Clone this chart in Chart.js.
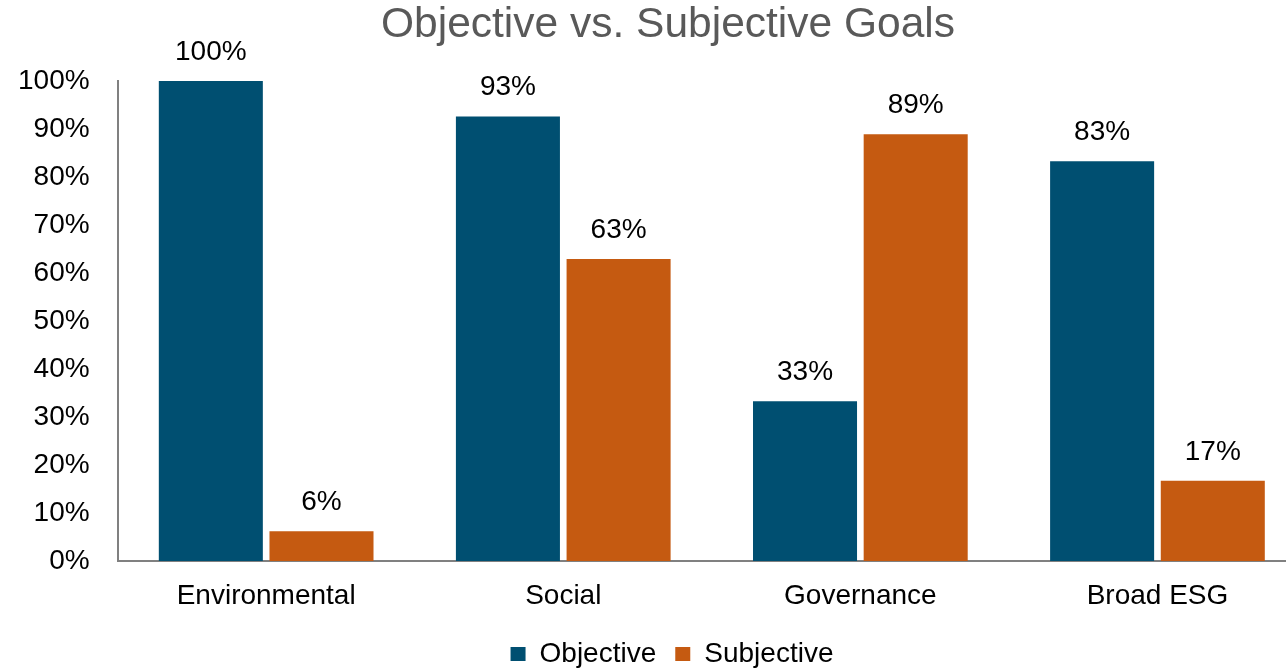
<!DOCTYPE html>
<html>
<head>
<meta charset="utf-8">
<script src="https://cdn.jsdelivr.net/npm/chart.js@4"></script>
<style>
  html, body { margin: 0; padding: 0; background: #fff; overflow: hidden; }
  /* the x axis runs a little past the right edge in the original */
  #wrap { width: 1306px; height: 668px; }
</style>
</head>
<body>
<div id="wrap"><canvas id="chart"></canvas></div>
<script>
const categories = ['Environmental', 'Social', 'Governance', 'Broad ESG'];
const objective  = [100, 92.6, 33.3, 83.3];
const subjective = [6.2, 62.9, 88.9, 16.7];
const yTicks = [0, 10, 20, 30, 40, 50, 60, 70, 80, 90, 100];

const FONT = '"Liberation Sans", Arial, sans-serif';

// draw the % labels above each bar
const barLabels = {
    id: 'barLabels',
    afterDatasetsDraw(chart) {
        const ctx = chart.ctx;
        ctx.save();
        ctx.font = '28px ' + FONT;
        ctx.fillStyle = '#000';
        ctx.textAlign = 'center';
        ctx.textBaseline = 'middle';
        chart.data.datasets.forEach((ds, i) => {
            chart.getDatasetMeta(i).data.forEach((bar, j) => {
                ctx.fillText(Math.round(ds.data[j]) + '%', bar.x, bar.y - 29);
            });
        });
        ctx.restore();
    }
};

// original is centred a bit right of the canvas middle
const nudge = {
    id: 'nudge',
    afterLayout(chart) {
        chart.titleBlock.left += 20;
        chart.titleBlock.right += 20;
        chart.legend.left += 24;
        chart.legend.right += 24;
    }
};

new Chart(document.getElementById('chart'), {
    type: 'bar',
    data: {
        labels: categories,
        datasets: [
            { label: 'Objective', data: objective, backgroundColor: '#004f71' },
            { label: 'Subjective', data: subjective, backgroundColor: '#c55a11' }
        ]
    },
    options: {
        responsive: true,
        maintainAspectRatio: false,
        animation: false,
        layout: { padding: { left: -10, right: 0, top: 0, bottom: -10 } },
        datasets: { bar: { categoryPercentage: 0.745, barPercentage: 0.94 } },
        plugins: {
            title: {
                display: true,
                text: 'Objective vs. Subjective Goals',
                color: '#595959',
                font: { family: FONT, size: 42.5, weight: 'normal' },
                padding: { top: 0, bottom: 30 }
            },
            legend: {
                position: 'bottom',
                labels: {
                    color: '#000',
                    boxWidth: 15,
                    boxHeight: 14,
                    padding: 19,
                    font: { family: FONT, size: 28 }
                }
            },
            tooltip: { enabled: false }
        },
        scales: {
            x: {
                grid: { display: false, drawTicks: false },
                border: { color: '#808080', width: 2 },
                afterFit: axis => { axis.height = 60; },
                ticks: {
                    color: '#000',
                    padding: 18,
                    font: { family: FONT, size: 28 }
                }
            },
            y: {
                min: 0,
                max: 100,
                afterBuildTicks: axis => { axis.ticks = yTicks.map(v => ({ value: v })); },
                grid: { display: false, drawTicks: false },
                border: { color: '#808080', width: 2 },
                ticks: {
                    color: '#000',
                    padding: 28,
                    callback: v => v + '%',
                    font: { family: FONT, size: 28 }
                }
            }
        }
    },
    plugins: [barLabels, nudge]
});
</script>
</body>
</html>
